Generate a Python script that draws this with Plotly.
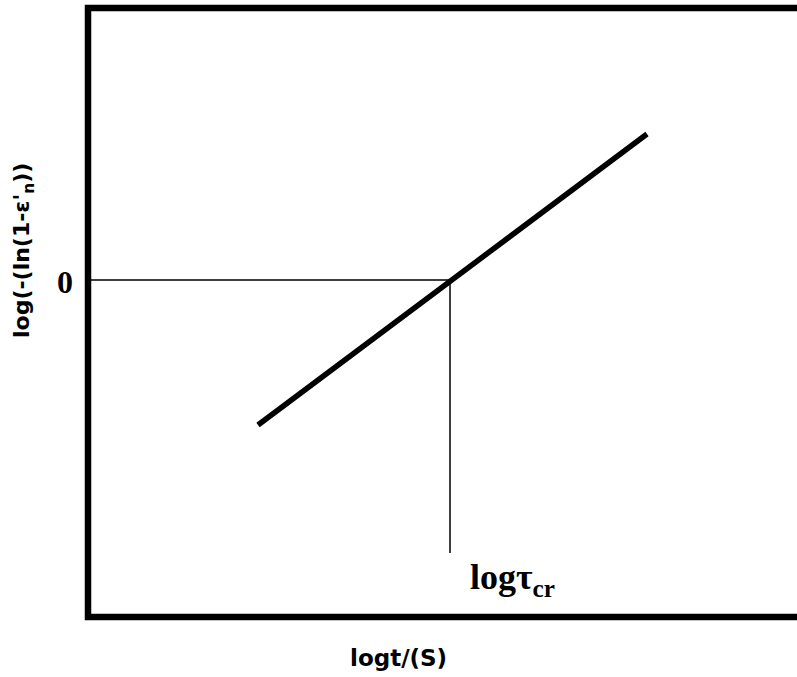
import plotly.graph_objects as go

# Avrami-type plot: log(-ln(1-eps'_n)) against log t
log_t = [1.70, 5.59]
log_ln = [-1.45, 1.46]

# Critical time where the fitted line crosses zero
log_tau_cr = 3.62
y_zero = 0.0
guide_bottom = -2.73

x_range = [0, 7.09]
y_range = [-3.37, 2.72]

# Figure geometry (pixels)
W, H = 797, 677
ML, MR, MT, MB = 88, 0, 8, 60
plot_w = W - ML - MR
plot_h = H - MT - MB


def px_to_paper(px, py):
    return (px - ML) / plot_w, (H - MB - py) / plot_h


fig = go.Figure()

fig.add_trace(go.Scatter(
    x=log_t, y=log_ln, mode="lines",
    line=dict(color="black", width=5.5),
    hoverinfo="skip", showlegend=False,
))

# Guide lines to the crossing point
fig.add_trace(go.Scatter(
    x=[x_range[0], log_tau_cr, log_tau_cr],
    y=[y_zero, y_zero, guide_bottom],
    mode="lines", line=dict(color="black", width=1.5),
    hoverinfo="skip", showlegend=False,
))

serif = "Liberation Serif, Times New Roman, serif"
sans = "DejaVu Sans, Verdana, sans-serif"

xt_x, xt_y = px_to_paper(398, 658)
yt_x, yt_y = px_to_paper(24, 251)

fig.update_layout(
    width=W, height=H,
    margin=dict(l=ML, r=MR, t=MT, b=MB),
    paper_bgcolor="white", plot_bgcolor="white",
    xaxis=dict(range=x_range, visible=False, fixedrange=True),
    yaxis=dict(range=y_range, visible=False, fixedrange=True),
    shapes=[
        # open-right frame around the plotting area
        dict(type="path", xref="paper", yref="paper",
             path="M 1.05 1 L 0 1 L 0 0 L 1.05 0",
             line=dict(color="black", width=6.5)),
    ],
    annotations=[
        dict(x=x_range[0], y=y_zero, xref="x", yref="y", text="<b>0</b>",
             showarrow=False, xanchor="right", yanchor="middle",
             xshift=-13, yshift=-2, font=dict(family=serif, size=32, color="black")),
        dict(x=log_tau_cr, y=guide_bottom, xref="x", yref="y",
             text="<b>logτ<sub>cr</sub></b>",
             showarrow=False, xanchor="left", yanchor="top",
             xshift=18, yshift=-2, font=dict(family=serif, size=36, color="black")),
        dict(x=xt_x, y=xt_y, xref="paper", yref="paper", text="<b>logt/(S)</b>",
             showarrow=False, xanchor="center", yanchor="middle",
             font=dict(family=sans, size=23, color="black")),
        dict(x=yt_x, y=yt_y, xref="paper", yref="paper",
             text="<b>log(-(ln(1-ε'<sub>n</sub>))</b>", textangle=-90,
             showarrow=False, xanchor="center", yanchor="middle",
             font=dict(family=sans, size=22, color="black")),
    ],
)

fig.write_html("out.html")
